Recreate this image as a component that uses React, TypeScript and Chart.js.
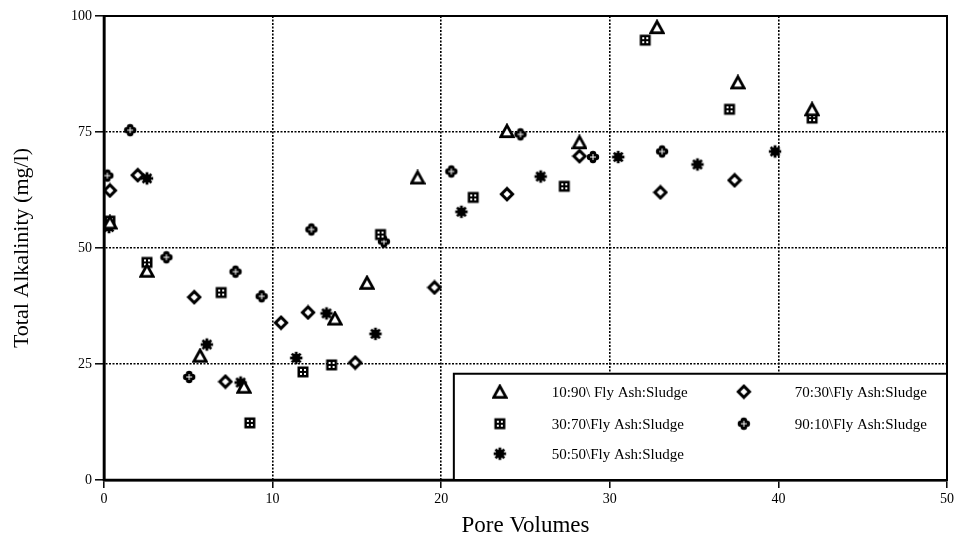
import React, { useEffect, useRef } from "react";
import { Chart, registerables } from "chart.js";

Chart.register(...registerables);

// ---- Data ----
const seriesLabels = [
  "10:90\\ Fly Ash:Sludge",
  "30:70\\Fly Ash:Sludge",
  "50:50\\Fly Ash:Sludge",
  "70:30\\Fly Ash:Sludge",
  "90:10\\Fly Ash:Sludge",
];

const xTicks = [0, 10, 20, 30, 40, 50];
const yTicks = [0, 25, 50, 75, 100];

// 10:90 (triangles)
const s1090X = [0.35, 2.55, 5.7, 8.3, 13.7, 15.6, 18.6, 23.9, 28.2, 32.8, 37.6, 42.0];
const s1090Y = [55.5, 45.1, 26.8, 20.1, 34.8, 42.5, 65.2, 75.2, 72.8, 97.6, 85.7, 79.9];

// 30:70 (boxed squares)
const s3070X = [0.35, 2.55, 6.95, 8.65, 11.8, 13.5, 16.4, 21.9, 27.3, 32.1, 37.1, 42.0];
const s3070Y = [55.8, 46.9, 40.4, 12.3, 23.3, 24.8, 52.9, 60.9, 63.3, 94.8, 79.9, 78.0];

// 50:50 (asterisks)
const s5050X = [0.3, 2.55, 6.1, 8.1, 11.4, 13.2, 16.1, 21.2, 25.9, 30.5, 35.2, 39.8];
const s5050Y = [54.5, 65.0, 29.2, 21.0, 26.3, 35.9, 31.5, 57.8, 65.4, 69.6, 68.0, 70.8];

// 70:30 (diamonds)
const s7030X = [0.35, 2.0, 5.35, 7.2, 10.5, 12.1, 14.9, 19.6, 23.9, 28.2, 33.0, 37.4];
const s7030Y = [62.4, 65.7, 39.4, 21.2, 33.9, 36.1, 25.3, 41.5, 61.6, 69.8, 62.0, 64.6];

// 90:10 (plus markers)
const s9010X = [0.2, 1.55, 3.7, 5.05, 7.8, 9.35, 12.3, 16.6, 20.6, 24.7, 29.0, 33.1];
const s9010Y = [65.6, 75.4, 48.0, 22.2, 44.9, 39.6, 54.0, 51.4, 66.5, 74.5, 69.6, 70.8];

const markerKinds = ["tri", "sq", "star", "dia", "plus"];

// ---- Markers ----
function makeMarker(kind: string): HTMLCanvasElement {
  const s = 16;
  const c = document.createElement("canvas");
  c.width = s;
  c.height = s;
  const g = c.getContext("2d") as CanvasRenderingContext2D;
  const m = s / 2;
  g.fillStyle = "#000";
  g.strokeStyle = "#000";
  if (kind === "tri") {
    g.lineWidth = 2.8;
    g.lineJoin = "miter";
    g.beginPath();
    g.moveTo(m, 2.3);
    g.lineTo(14.2, 13.6);
    g.lineTo(1.8, 13.6);
    g.closePath();
    g.fillStyle = "#fff";
    g.fill();
    g.stroke();
  } else if (kind === "sq") {
    g.fillRect(2.5, 2.5, 11, 11);
    g.fillStyle = "#fff";
    g.fillRect(5, 5, 2, 2);
    g.fillRect(9, 5, 2, 2);
    g.fillRect(5, 9, 2, 2);
    g.fillRect(9, 9, 2, 2);
  } else if (kind === "star") {
    g.lineWidth = 2.8;
    const r = 6.2;
    for (let k = 0; k < 4; k++) {
      const a = (k * Math.PI) / 4;
      g.beginPath();
      g.moveTo(m - r * Math.cos(a), m - r * Math.sin(a));
      g.lineTo(m + r * Math.cos(a), m + r * Math.sin(a));
      g.stroke();
    }
    g.beginPath();
    g.arc(m, m, 4.2, 0, Math.PI * 2);
    g.fill();
  } else if (kind === "dia") {
    g.lineWidth = 3;
    g.beginPath();
    g.moveTo(m, 2.4);
    g.lineTo(13.6, m);
    g.lineTo(m, 13.6);
    g.lineTo(2.4, m);
    g.closePath();
    g.fillStyle = "#fff";
    g.fill();
    g.stroke();
  } else if (kind === "plus") {
    const d = 2.9;
    const r = 3.3;
    [[d, 0], [-d, 0], [0, d], [0, -d]].forEach(([dx, dy]) => {
      g.beginPath();
      g.arc(m + dx, m + dy, r, 0, Math.PI * 2);
      g.fill();
    });
    g.fillRect(m - 3, m - 3, 6, 6);
    g.strokeStyle = "#fff";
    g.lineWidth = 1;
    g.beginPath();
    g.moveTo(m - 3, m);
    g.lineTo(m + 3, m);
    g.moveTo(m, m - 3);
    g.lineTo(m, m + 3);
    g.stroke();
  }
  return c;
}

const FONT = "'Liberation Serif', 'Times New Roman', serif";

export default function App() {
  const ref = useRef<HTMLCanvasElement | null>(null);

  useEffect(() => {
    if (!ref.current) return;
    const markers = markerKinds.map(makeMarker);
    const xs = [s1090X, s3070X, s5050X, s7030X, s9010X];
    const ys = [s1090Y, s3070Y, s5050Y, s7030Y, s9010Y];

    const datasets = seriesLabels.map((label, i) => ({
      label,
      data: xs[i].map((x, j) => ({ x, y: ys[i][j] })),
      pointStyle: markers[i],
      pointRadius: 7,
      showLine: false,
      borderColor: "#000",
      backgroundColor: "#000",
    }));

    const framePlugin = {
      id: "frameAndLegend",
      beforeDatasetsDraw(chart: any) {
        const { ctx, chartArea } = chart;
        const { left, top, right, bottom } = chartArea;
        ctx.save();
        ctx.strokeStyle = "#000";
        ctx.lineWidth = 2;
        ctx.strokeRect(left, top, right - left, bottom - top);
        ctx.lineWidth = 2.6;
        ctx.beginPath();
        ctx.moveTo(left, top);
        ctx.lineTo(left, bottom);
        ctx.lineTo(right, bottom);
        ctx.stroke();
        ctx.restore();
      },
      afterDatasetsDraw(chart: any) {
        const { ctx, chartArea, scales } = chart;
        const bx = scales.x.getPixelForValue(20.75);
        const by = scales.y.getPixelForValue(22.9);
        const bw = chartArea.right - bx;
        const bh = chartArea.bottom - by;
        ctx.save();
        ctx.fillStyle = "#fff";
        ctx.fillRect(bx, by, bw, bh);
        ctx.strokeStyle = "#000";
        ctx.lineWidth = 2;
        ctx.strokeRect(bx, by, bw, bh);
        ctx.font = `15px ${FONT}`;
        ctx.fillStyle = "#000";
        ctx.textBaseline = "middle";
        const rows = [18, 50, 80];
        const pos = [
          [0, 0], [0, 1], [0, 2], [1, 0], [1, 1],
        ];
        const colMarker = [46, 290];
        const colText = [98, 341];
        pos.forEach(([col, row], i) => {
          const yy = by + rows[row];
          const mk = markers[i];
          ctx.drawImage(mk, bx + colMarker[col] - mk.width / 2, yy - mk.height / 2);
          ctx.fillText(seriesLabels[i], bx + colText[col], yy + 1);
        });
        ctx.restore();
      },
    };

    const gridColor = (ends: number[]) => (c: any) =>
      c.tick && ends.includes(c.tick.value) ? "rgba(0,0,0,0)" : "#000";

    const chart = new Chart(ref.current, {
      type: "scatter",
      data: { datasets },
      plugins: [framePlugin],
      options: {
        animation: false,
        responsive: false,
        devicePixelRatio: 1,
        layout: { padding: { top: 16, right: 13, left: 0, bottom: 0 } },
        plugins: {
          legend: { display: false },
          tooltip: { enabled: false },
        },
        scales: {
          x: {
            type: "linear",
            min: 0,
            max: 50,
            afterBuildTicks: (s: any) => {
              s.ticks = xTicks.map((v) => ({ value: v }));
            },
            afterFit: (s: any) => {
              s.height = 63;
            },
            ticks: {
              color: "#000",
              font: { family: FONT, size: 14 },
              padding: 3,
              maxRotation: 0,
            },
            grid: {
              color: gridColor([0, 50]),
              lineWidth: 1.6,
              tickColor: "#000",
              tickLength: 8,
              tickWidth: 1.5,
              tickBorderDash: [],
            },
            border: { display: true, color: "#000", width: 2.5, dash: [2, 1.5] },
            title: {
              display: true,
              text: "Pore Volumes",
              color: "#000",
              font: { family: FONT, size: 23 },
              padding: { top: 0, bottom: 3 },
            },
          },
          y: {
            type: "linear",
            min: 0,
            max: 100,
            afterBuildTicks: (s: any) => {
              s.ticks = yTicks.map((v) => ({ value: v }));
            },
            afterFit: (s: any) => {
              s.width = 104;
            },
            ticks: {
              color: "#000",
              font: { family: FONT, size: 14 },
              padding: 3,
            },
            grid: {
              color: gridColor([0, 100]),
              lineWidth: 1.6,
              tickColor: "#000",
              tickLength: 9,
              tickWidth: 1.5,
              tickBorderDash: [],
            },
            border: { display: true, color: "#000", width: 2.5, dash: [2, 1.5] },
            title: {
              display: true,
              text: "Total Alkalinity (mg/l)",
              color: "#000",
              font: { family: FONT, size: 22 },
              padding: { top: 9, bottom: 0 },
            },
          },
        },
      } as any,
    });
    return () => chart.destroy();
  }, []);

  return (
    <div style={{ position: "absolute", left: 0, top: 0, width: 960, height: 543, background: "#fff" }}>
      <canvas ref={ref} width={960} height={543} style={{ display: "block" }} />
    </div>
  );
}
